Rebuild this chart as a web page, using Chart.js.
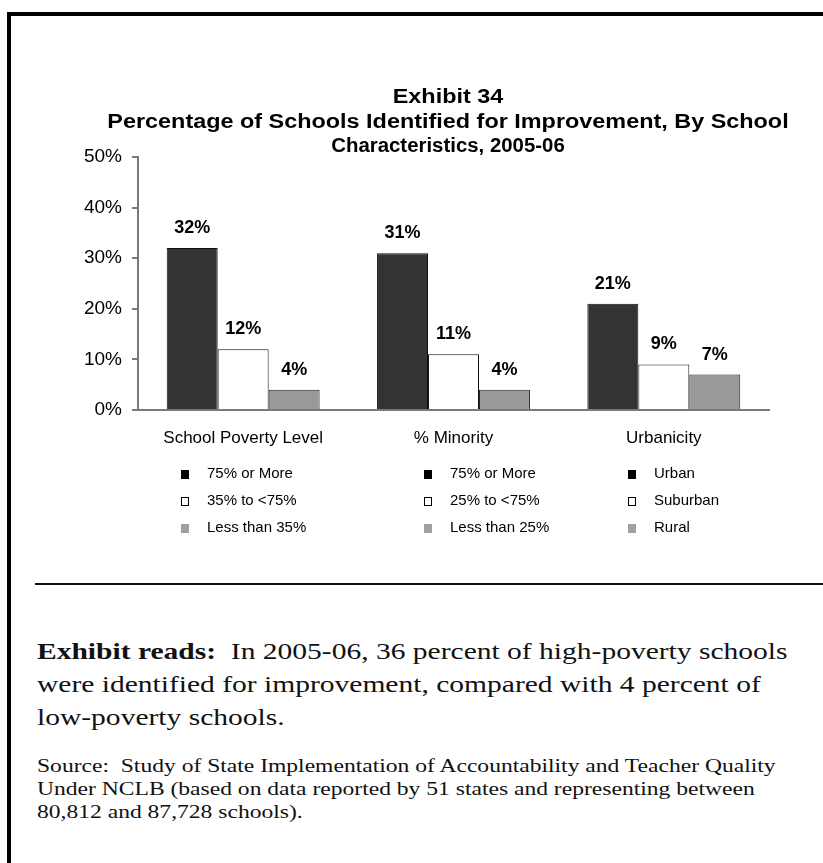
<!DOCTYPE html>
<html>
<head>
<meta charset="utf-8">
<script src="https://cdn.jsdelivr.net/npm/chart.js@4.4.1/dist/chart.umd.min.js"></script>
<style>
  html, body { margin: 0; padding: 0; background: #fff; }
  #page { position: relative; width: 823px; height: 863px; overflow: hidden; background: #fff; }
  #frame-top { position: absolute; left: 7px; top: 12px; width: 816px; height: 4px; background: #000; }
  #frame-left { position: absolute; left: 7px; top: 12px; width: 4px; height: 851px; background: #000; }
  #rule { position: absolute; left: 35px; top: 583px; width: 788px; height: 2px; background: #111; }
  #chart-wrap { position: absolute; left: 0; top: 0; width: 823px; height: 570px; }
  #title { position: absolute; left: 448px; top: 84px; width: 0; }
  #title div { position: absolute; left: 0; white-space: nowrap; transform: translateX(-50%) scaleX(1.17);
               font: bold 20px "Liberation Sans", Arial, sans-serif; line-height: 24.5px; color: #000; }
  #title div.narrow { transform: translateX(-50%) scaleX(1.02); }
  .serif { position: absolute; left: 37px; white-space: nowrap; transform-origin: 0 0;
           font-family: "Liberation Serif", "Times New Roman", serif; color: #111; }
  #reads { top: 635px; font-size: 24px; line-height: 33px; transform: scaleX(1.23); }
  #source { top: 754px; font-size: 19px; line-height: 23px; transform: scaleX(1.24); }
</style>
</head>
<body>
<div id="page">
  <div id="chart-wrap"><canvas id="exhibit-chart" width="823" height="570"></canvas></div>
  <div id="title">
    <div style="top:0">Exhibit 34</div>
    <div style="top:24.5px">Percentage of Schools Identified for Improvement, By School</div>
    <div class="narrow" style="top:49px">Characteristics, 2005-06</div>
  </div>
  <div id="frame-top"></div>
  <div id="frame-left"></div>
  <div id="rule"></div>
  <div id="reads" class="serif"><b>Exhibit reads:</b>&nbsp; In 2005-06, 36 percent of high-poverty schools<br>were identified for improvement, compared with 4 percent of<br>low-poverty schools.</div>
  <div id="source" class="serif">Source:&nbsp; Study of State Implementation of Accountability and Teacher Quality<br>Under NCLB (based on data reported by 51 states and representing between<br>80,812 and 87,728 schools).</div>
</div>
<script>
var categories = ['School Poverty Level', '% Minority', 'Urbanicity'];
var highValues = [32, 31, 21];
var midValues = [12, 11, 9];
var lowValues = [4, 4, 7];
var yTicks = [0, 10, 20, 30, 40, 50];

// legend wording differs for each characteristic
var highLabels = ['75% or More', '75% or More', 'Urban'];
var midLabels = ['35% to <75%', '25% to <75%', 'Suburban'];
var lowLabels = ['Less than 35%', 'Less than 25%', 'Rural'];

var SANS = '"Liberation Sans", Arial, sans-serif';
var legendX = [181, 424, 628];
var legendRowY = [474, 501, 528];

var valueLabels = {
    id: 'valueLabels',
    afterDatasetsDraw: function(chart) {
        var ctx = chart.ctx;
        ctx.save();
        ctx.font = 'bold 18px ' + SANS;
        ctx.fillStyle = '#000';
        ctx.textAlign = 'center';
        ctx.textBaseline = 'middle';
        chart.data.datasets.forEach(function(ds, i) {
            chart.getDatasetMeta(i).data.forEach(function(bar, j) {
                ctx.fillText(ds.data[j] + '%', bar.x, bar.y - 20);
            });
        });
        ctx.restore();
    }
};

var groupLegend = {
    id: 'groupLegend',
    afterDraw: function(chart) {
        var ctx = chart.ctx;
        var sets = chart.data.datasets;
        ctx.save();
        ctx.font = '15px ' + SANS;
        ctx.textBaseline = 'middle';
        ctx.textAlign = 'left';
        categories.forEach(function(c, j) {
            sets.forEach(function(ds, i) {
                var x = legendX[j], y = legendRowY[i];
                ctx.fillStyle = ds.legendFill;
                ctx.fillRect(x, y - 4, 8, 9);
                if (ds.legendStroke) {
                    ctx.strokeStyle = ds.legendStroke;
                    ctx.lineWidth = 1;
                    ctx.strokeRect(x + 0.5, y - 3.5, 7, 8);
                }
                ctx.fillStyle = '#000';
                ctx.fillText(ds.groupLabels[j], x + 26, y);
            });
        });
        ctx.restore();
    }
};

window.onload = function() {
    var ctx = document.getElementById('exhibit-chart');
    new Chart(ctx, {
        type: 'bar',
        data: {
            labels: categories,
            datasets: [
                { data: highValues, backgroundColor: '#333333', borderColor: '#111', borderWidth: 1,
                  legendFill: '#000', groupLabels: highLabels },
                { data: midValues, backgroundColor: '#ffffff', borderColor: '#111', borderWidth: 1,
                  legendFill: '#fff', legendStroke: '#000', groupLabels: midLabels },
                { data: lowValues, backgroundColor: '#999999', borderColor: '#222', borderWidth: 1,
                  legendFill: '#a0a0a0', groupLabels: lowLabels }
            ]
        },
        options: {
            responsive: false,
            animation: false,
            events: [],
            layout: { padding: { left: 0, right: 54, top: 157, bottom: 0 } },
            plugins: { legend: { display: false }, tooltip: { enabled: false } },
            datasets: { bar: { categoryPercentage: 0.727, barPercentage: 1.0 } },
            scales: {
                x: {
                    afterFit: function(s) { s.height = 160; },
                    grid: { display: false, drawTicks: false },
                    border: { display: true, color: '#7a7a7a', width: 2 },
                    ticks: { color: '#000', font: { family: SANS, size: 17 }, padding: 18, maxRotation: 0 }
                },
                y: {
                    min: 0, max: 50,
                    afterFit: function(s) { s.width = 138; },
                    afterBuildTicks: function(s) { s.ticks = yTicks.map(function(v) { return { value: v }; }); },
                    grid: { drawOnChartArea: false, drawTicks: true, tickLength: 6, color: '#7a7a7a', lineWidth: 2 },
                    border: { display: true, color: '#7a7a7a', width: 2 },
                    ticks: { color: '#000', font: { family: SANS, size: 19 }, padding: 10,
                             callback: function(v) { return v + '%'; } }
                }
            }
        },
        plugins: [valueLabels, groupLegend]
    });
};
</script>
</body>
</html>
